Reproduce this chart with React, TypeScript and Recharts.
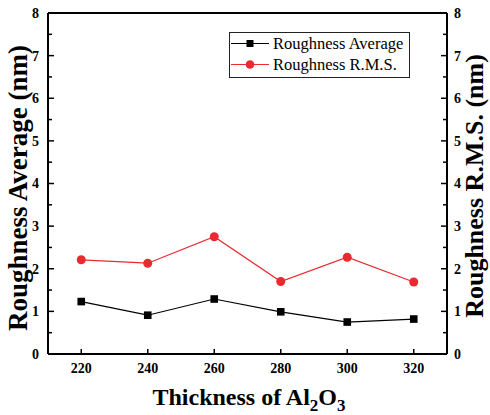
import React from "react";
import { LineChart, Line, XAxis, YAxis, Legend, ReferenceLine } from "recharts";

const thickness = [220, 240, 260, 280, 300, 320];
const roughnessAvg = [1.23, 0.91, 1.29, 0.99, 0.75, 0.82];
const roughnessRms = [2.21, 2.13, 2.75, 1.7, 2.27, 1.69];
const yTicks = [0, 0.5, 1, 1.5, 2, 2.5, 3, 3.5, 4, 4.5, 5, 5.5, 6, 6.5, 7, 7.5, 8];
const xTicks = [220, 240, 260, 280, 300, 320];

const data = thickness.map((t, i) => ({
  t,
  avg: roughnessAvg[i],
  rms: roughnessRms[i],
}));

const RED = "#ea2a2f";
const FONT = "Liberation Serif, Times New Roman, serif";

const LeftTick = (props: any) => {
  const { x, y, payload } = props;
  const v = payload.value;
  const major = Number.isInteger(v);
  const axisX = x + 9;
  return (
    <g>
      <line x1={axisX} x2={axisX + (major ? 6 : 4)} y1={y} y2={y} stroke="#000" strokeWidth={1.5} />
      {major && (
        <text x={x} y={y} dy="0.35em" textAnchor="end" fontFamily={FONT} fontWeight="bold" fontSize={14} fill="#000">
          {v}
        </text>
      )}
    </g>
  );
};

const RightTick = (props: any) => {
  const { x, y, payload } = props;
  const v = payload.value;
  const major = Number.isInteger(v);
  const axisX = x - 7;
  return (
    <g>
      <line x1={axisX} x2={axisX - (major ? 6 : 4)} y1={y} y2={y} stroke="#000" strokeWidth={1.5} />
      {major && (
        <text x={x} y={y} dy="0.35em" textAnchor="start" fontFamily={FONT} fontWeight="bold" fontSize={14} fill="#000">
          {v}
        </text>
      )}
    </g>
  );
};

const BottomTick = (props: any) => {
  const { x, y, payload } = props;
  const axisY = y - 9;
  return (
    <g>
      <line x1={x} x2={x} y1={axisY} y2={axisY - 5} stroke="#000" strokeWidth={1.5} />
      <text x={x} y={y} dy="0.71em" textAnchor="middle" fontFamily={FONT} fontWeight="bold" fontSize={14} fill="#000">
        {payload.value}
      </text>
    </g>
  );
};

const SquareDot = (props: any) => {
  const { cx, cy, index } = props;
  return <rect key={`sq-${index}`} x={cx - 3.8} y={cy - 3.8} width={7.6} height={7.6} fill="#000" />;
};

const renderLegend = () => (
  <div
    style={{
      width: 181,
      height: 46,
      border: "1px solid #222",
      boxSizing: "border-box",
      background: "#fff",
      fontFamily: FONT,
      fontSize: 16.5,
      color: "#000",
    }}
  >
    {[
      { name: "Roughness Average", color: "#000", shape: "square" },
      { name: "Roughness R.M.S.", color: RED, shape: "circle" },
    ].map((item) => (
      <div key={item.name} style={{ display: "flex", alignItems: "center", height: 21, lineHeight: "21px" }}>
        <svg width={40} height={21}>
          <line x1={1} x2={39} y1={10.5} y2={10.5} stroke={item.color} strokeWidth={1.2} />
          {item.shape === "square" ? (
            <rect x={16.5} y={7} width={7} height={7} fill="#000" />
          ) : (
            <circle cx={20} cy={10.5} r={4.3} fill={RED} />
          )}
        </svg>
        <span style={{ marginLeft: 3, whiteSpace: "nowrap" }}>{item.name}</span>
      </div>
    ))}
  </div>
);

export default function App() {
  return (
    <div style={{ position: "absolute", left: 0, top: 0, width: 490, height: 415, background: "#fff" }}>
      <LineChart width={490} height={415} data={data} margin={{ top: 13, right: 0, bottom: 0, left: 0 }}>
        <XAxis
          dataKey="t"
          type="number"
          domain={[210, 330]}
          ticks={xTicks}
          height={61}
          tickLine={false}
          tickSize={0}
          tickMargin={9}
          tick={<BottomTick />}
          axisLine={{ stroke: "#000", strokeWidth: 2 }}
          label={{
            content: () => (
              <text x={249} y={405} textAnchor="middle" fontFamily={FONT} fontWeight="bold" fontSize={24} fill="#000">
                Thickness of Al
                <tspan fontSize={17} dy={6}>2</tspan>
                <tspan dy={-6}>O</tspan>
                <tspan fontSize={17} dy={6}>3</tspan>
              </text>
            ),
          }}
        />
        <YAxis
          yAxisId="left"
          orientation="left"
          type="number"
          domain={[0, 8]}
          ticks={yTicks}
          interval={0}
          width={48}
          tickLine={false}
          tickSize={0}
          tickMargin={9}
          tick={<LeftTick />}
          axisLine={{ stroke: "#000", strokeWidth: 2 }}
          label={{
            content: () => (
              <text
                x={27}
                y={188}
                transform="rotate(-90 27 188)"
                textAnchor="middle"
                fontFamily={FONT}
                fontWeight="bold"
                fontSize={27}
                fill="#000"
              >
                Roughness Average (nm)
              </text>
            ),
          }}
        />
        <YAxis
          yAxisId="right"
          orientation="right"
          type="number"
          domain={[0, 8]}
          ticks={yTicks}
          interval={0}
          width={43}
          tickLine={false}
          tickSize={0}
          tickMargin={7}
          tick={<RightTick />}
          axisLine={{ stroke: "#000", strokeWidth: 2 }}
          label={{
            content: () => (
              <text
                x={483}
                y={186}
                transform="rotate(-90 483 186)"
                textAnchor="middle"
                fontFamily={FONT}
                fontWeight="bold"
                fontSize={26}
                fill="#000"
              >
                Roughness R.M.S. (nm)
              </text>
            ),
          }}
        />
        <ReferenceLine yAxisId="left" y={8} stroke="#000" strokeWidth={2} />
        <Legend
          layout="vertical"
          align="center"
          verticalAlign="middle"
          content={renderLegend}
          wrapperStyle={{ left: 229, top: 32, width: 181, height: 46 }}
        />
        <Line
          yAxisId="right"
          dataKey="rms"
          stroke={RED}
          strokeWidth={1.2}
          dot={{ r: 4.5, fill: RED, stroke: RED, strokeWidth: 0 }}
          isAnimationActive={false}
        />
        <Line
          yAxisId="left"
          dataKey="avg"
          stroke="#000"
          strokeWidth={1.2}
          dot={<SquareDot />}
          isAnimationActive={false}
        />
      </LineChart>
    </div>
  );
}
